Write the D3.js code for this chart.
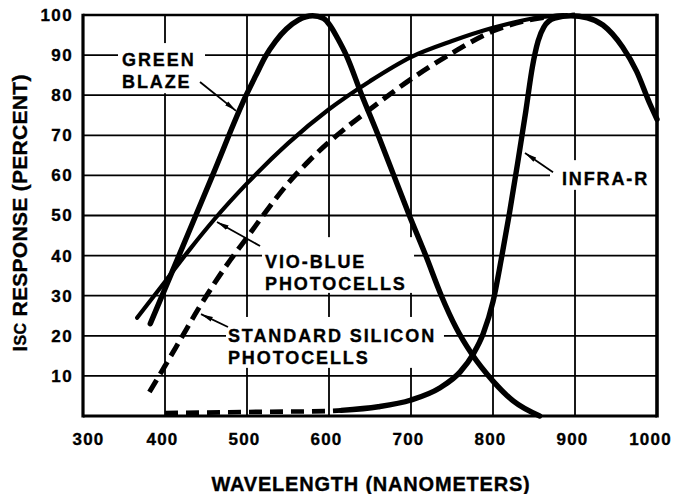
<!DOCTYPE html>
<html>
<head>
<meta charset="utf-8">
<script src="https://cdn.jsdelivr.net/npm/d3@7/dist/d3.min.js"></script>
<style>
  html, body { margin: 0; padding: 0; background: #fff; }
  svg { display: block; }
  text { font-family: "Liberation Sans", Arial, Helvetica, sans-serif; font-weight: bold; fill: #000; stroke: #000; stroke-width: 0.35px; }
</style>
</head>
<body>
<svg id="chart" width="674" height="494"></svg>
<script>
// ---------- data (wavelength nm, response %) ----------
const xTicks = [300, 400, 500, 600, 700, 800, 900, 1000];
const yTicks = [10, 20, 30, 40, 50, 60, 70, 80, 90, 100];

const greenBlaze = [[382,23],[417,40],[458,60],[499,80],[511,85],[522,89.5],[535,93.5],[548,96.5],[563,98.8],[580,99.8],[593,99.2],[601,97.5],[611,94],[621,90],[640,80],[660,70],[679,60],[698,50],[718,40],[737,30],[755,22],[774,15.5],[800,8.7],[825,3.7],[857,0]];

const vioBlue = [[366,24.5],[400,33.5],[430,41.5],[460,49],[500,58],[550,68],[600,76.5],[650,83.5],[700,89.5],[750,93.5],[800,96.8],[850,99.2],[890,100]];

const standardSilicon = [[381,6],[400,12.5],[420,19.5],[440,26.5],[460,33],[480,39],[500,44.5],[525,51.5],[550,58],[575,63.5],[600,68.3],[650,76.5],[700,84],[750,90.5],[800,96],[850,99],[900,100]];

const infraLow = [[400,0.75],[450,0.85],[500,1],[550,1.1],[600,1.25],[615,1.4]];
const infraR = [[615,1.4],[660,2.3],[700,4],[735,7],[760,11],[776,15.5],[788,20.5],[800,28.5],[810,39],[820,50.5],[830,63],[840,76],[848,87],[855,93.5],[862,97],[875,99.2],[895,99.8],[915,99.3],[934,97.5],[958,92],[975,86],[991,78],[1000,74]];

// annotation labels
const labelLines = [["GREEN", "BLAZE"], ["VIO-BLUE", "PHOTOCELLS"], ["STANDARD SILICON", "PHOTOCELLS"], ["INFRA-R"]];
const labelAnchors = [[347.6, 87.2], [522, 36.9], [476.8, 18.5], [884, 57.6]];
// white boxes behind labels (nm0, nm1, %top, %bottom)
const labelBoxes = [[342.7, 448.8, 93, 80.5], [518.3, 703.7, 44.6, 30.7], [474.4, 740.2, 24.7, 12], [869.5, 1000, 63.8, 56.4]];
// arrows: tail (nm,%) -> head (nm,%)
const arrows = [[[442.7, 83.3], [486.6, 76.1]], [[515.9, 42.4], [463.4, 48.4]], [[476.8, 22.2], [443.9, 25.4]], [[873.2, 60.8], [839, 65.6]]];

// ---------- layout ----------
const svg = d3.select("#chart");
const margin = {left: 83, top: 15, right: 17, bottom: 78};
const W = 674, H = 494;
const x = d3.scaleLinear().domain([300, 1000]).range([margin.left, W - margin.right]);
const y = d3.scaleLinear().domain([0, 100]).range([416, margin.top]);

// gridlines
const grid = svg.append("g");
grid.selectAll("line.v").data(xTicks.filter(d => d > 300 && d < 1000)).join("line")
  .attr("x1", d => x(d)).attr("x2", d => x(d)).attr("y1", y(100)).attr("y2", y(0))
  .attr("stroke", "#000").attr("stroke-width", 1.8);
grid.selectAll("line.h").data(yTicks.filter(d => d < 100)).join("line")
  .attr("x1", x(300)).attr("x2", x(1000)).attr("y1", d => y(d)).attr("y2", d => y(d))
  .attr("stroke", "#000").attr("stroke-width", 1.8);

// label boxes erase gridlines
svg.append("g").selectAll("rect").data(labelBoxes).join("rect")
  .attr("x", d => x(d[0])).attr("width", d => x(d[1]) - x(d[0]))
  .attr("y", d => y(d[2])).attr("height", d => y(d[3]) - y(d[2]))
  .attr("fill", "#fff");

// frame
const frame = svg.append("g").attr("stroke", "#000").attr("fill", "none");
frame.append("line").attr("x1", x(300)).attr("x2", x(1000)).attr("y1", y(100)).attr("y2", y(100)).attr("stroke-width", 2.6);
frame.append("line").attr("x1", x(300)).attr("x2", x(1000)).attr("y1", y(0)).attr("y2", y(0)).attr("stroke-width", 3.2);
frame.append("line").attr("x1", x(300)).attr("x2", x(300)).attr("y1", y(100) - 1.3).attr("y2", y(0) + 1.6).attr("stroke-width", 3.2);
frame.append("line").attr("x1", x(1000)).attr("x2", x(1000)).attr("y1", y(100) - 1.3).attr("y2", y(0) + 1.6).attr("stroke-width", 3.6);

// axes (labels only)
const yAxis = svg.append("g").attr("transform", `translate(${x(300)},0)`)
  .call(d3.axisLeft(y).tickValues(yTicks).tickSize(0).tickPadding(10));
yAxis.select(".domain").remove();
yAxis.selectAll("text").attr("font-size", 17).attr("letter-spacing", 1.4)
  .style("font-family", '"Liberation Sans", Arial, sans-serif').style("font-weight", "bold");

const xAxis = svg.append("g").attr("transform", `translate(0,${y(0)})`)
  .call(d3.axisBottom(x).tickValues(xTicks).tickSize(0).tickPadding(17).tickFormat(d3.format("d")));
xAxis.select(".domain").remove();
xAxis.selectAll("text").attr("font-size", 17).attr("letter-spacing", 1.2)
  .attr("dx", d => d === 300 ? 5 : (d === 1000 ? -7 : -3))
  .style("font-family", '"Liberation Sans", Arial, sans-serif').style("font-weight", "bold");

// curves
const line = d3.line().x(d => x(d[0])).y(d => y(d[1])).curve(d3.curveMonotoneX);
const curves = svg.append("g").attr("fill", "none").attr("stroke", "#000");
curves.append("path").datum(infraLow).attr("d", line).attr("stroke-width", 4.6).attr("stroke-dasharray", "13,8");
curves.append("path").datum(standardSilicon).attr("d", line).attr("stroke-width", 5).attr("stroke-dasharray", "14,7");
curves.append("path").datum(vioBlue).attr("d", line).attr("stroke-width", 4.2).attr("stroke-linecap", "round");
curves.append("path").datum(greenBlaze).attr("d", line).attr("stroke-width", 5.4).attr("stroke-linecap", "round");
curves.append("path").datum(infraR).attr("d", line).attr("stroke-width", 5.4).attr("stroke-linecap", "round");

// arrows
svg.append("defs").append("marker").attr("id", "ah")
  .attr("viewBox", "0 0 12 6").attr("refX", 12).attr("refY", 3)
  .attr("markerWidth", 12).attr("markerHeight", 6).attr("markerUnits", "userSpaceOnUse")
  .attr("orient", "auto")
  .append("path").attr("d", "M0,0.5 L12,3 L0,5.5 Z").attr("fill", "#000");
svg.append("g").selectAll("line").data(arrows).join("line")
  .attr("x1", d => x(d[0][0])).attr("y1", d => y(d[0][1]))
  .attr("x2", d => x(d[1][0])).attr("y2", d => y(d[1][1]))
  .attr("stroke", "#000").attr("stroke-width", 1.8).attr("marker-end", "url(#ah)");

// annotation labels
const lbl = svg.append("g").selectAll("text").data(labelLines).join("text")
  .attr("font-size", 18).attr("letter-spacing", 1.9)
  .attr("x", (d, i) => x(labelAnchors[i][0])).attr("y", (d, i) => y(labelAnchors[i][1]));
lbl.selectAll("tspan").data((d, i) => d.map(t => ({t, i}))).join("tspan")
  .attr("x", d => x(labelAnchors[d.i][0]))
  .attr("dy", (d, j) => j === 0 ? 0 : 22)
  .text(d => d.t);

// axis titles
svg.append("text").attr("x", 371).attr("y", 491).attr("text-anchor", "middle")
  .attr("font-size", 20).attr("letter-spacing", 0.8).text("WAVELENGTH (NANOMETERS)");

const yt = svg.append("text").attr("transform", "translate(27,213) rotate(-90)")
  .attr("text-anchor", "middle").attr("font-size", 21).attr("letter-spacing", 0.3);
yt.append("tspan").text("I");
yt.append("tspan").attr("font-size", 16).attr("dy", -1).text("SC");
yt.append("tspan").attr("dy", 1).text(" RESPONSE (PERCENT)");
</script>
</body>
</html>
